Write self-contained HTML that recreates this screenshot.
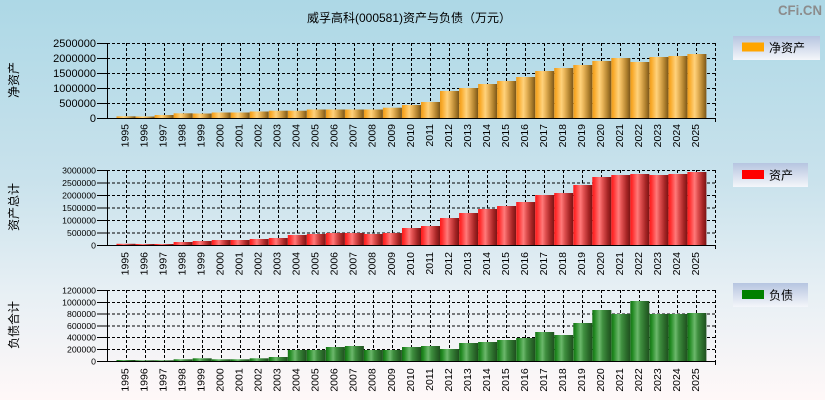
<!DOCTYPE html>
<html><head><meta charset="utf-8"><style>
html,body{margin:0;padding:0;}
body{width:825px;height:400px;overflow:hidden;background:linear-gradient(to bottom,#add8e6 0%,#c9e2ec 45%,#e6eff4 72%,#fff8f8 100%);}
svg{display:block;}
.t{font-family:"Liberation Sans","Noto Sans CJK SC",sans-serif;fill:#000;}
.yl{font-family:"Liberation Sans",sans-serif;font-size:10.5px;fill:#000;}
</style></head><body>
<svg width="825" height="400" viewBox="0 0 825 400" xmlns="http://www.w3.org/2000/svg">
<defs>
<linearGradient id="go" x1="0" y1="0" x2="1" y2="0">
<stop offset="0" stop-color="#eb9a1c"/><stop offset="0.12" stop-color="#f9ab2c"/><stop offset="0.38" stop-color="#ffd27c"/><stop offset="0.55" stop-color="#e8b458"/><stop offset="0.8" stop-color="#b0812e"/><stop offset="1" stop-color="#7a561a"/>
</linearGradient>
<linearGradient id="gr" x1="0" y1="0" x2="1" y2="0">
<stop offset="0" stop-color="#ff1a1a"/><stop offset="0.12" stop-color="#ff3030"/><stop offset="0.38" stop-color="#ff7a7a"/><stop offset="0.55" stop-color="#e05050"/><stop offset="0.8" stop-color="#a82626"/><stop offset="1" stop-color="#7a1414"/>
</linearGradient>
<linearGradient id="gg" x1="0" y1="0" x2="1" y2="0">
<stop offset="0" stop-color="#157015"/><stop offset="0.12" stop-color="#228a22"/><stop offset="0.38" stop-color="#6cb86c"/><stop offset="0.55" stop-color="#3f8f3f"/><stop offset="0.8" stop-color="#2a6a2a"/><stop offset="1" stop-color="#1f4f1f"/>
</linearGradient>
<linearGradient id="lg" x1="0" y1="0" x2="0" y2="1">
<stop offset="0" stop-color="#b6c5e0"/><stop offset="1" stop-color="#f4f6fa"/>
</linearGradient>
</defs>

<!-- Title & logo -->
<text class="t" x="409" y="22" font-size="12" text-anchor="middle">威孚高科(000581)资产与负债（万元）</text>
<text x="800" y="15" font-family="Liberation Sans,sans-serif" font-weight="bold" font-size="14" fill="#8c8c8c" text-anchor="middle" textLength="44" lengthAdjust="spacingAndGlyphs">CFi.CN</text>

<!-- Y axis titles -->
<text class="t" font-size="12" text-anchor="middle" transform="translate(18,80) rotate(-90)">净资产</text>
<text class="t" font-size="12" text-anchor="middle" transform="translate(18,207) rotate(-90)">资产总计</text>
<text class="t" font-size="12" text-anchor="middle" transform="translate(18,325) rotate(-90)">负债合计</text>

<!-- ================= PANEL 1 ================= -->
<g stroke="#000" stroke-width="1" stroke-dasharray="3,2" fill="none">
<path d="M107 43.5H716M107 58.5H716M107 73.5H716M107 88.5H716M107 103.5H716"/>
<path d="M126.5 43V118M145.5 43V118M164.5 43V118M183.5 43V118M202.5 43V118M221.5 43V118M240.5 43V118M259.5 43V118M278.5 43V118M297.5 43V118M316.5 43V118M335.5 43V118M354.5 43V118M373.5 43V118M392.5 43V118M411.5 43V118M430.5 43V118M449.5 43V118M468.5 43V118M487.5 43V118M506.5 43V118M525.5 43V118M544.5 43V118M563.5 43V118M582.5 43V118M601.5 43V118M620.5 43V118M639.5 43V118M658.5 43V118M677.5 43V118M696.5 43V118M715.5 43V118"/>
</g>
<g fill="url(#go)">
<rect x="116.5" y="116.3" width="19" height="1.7"/>
<rect x="135.6" y="116.5" width="19" height="1.5"/>
<rect x="154.6" y="115" width="19" height="3"/>
<rect x="173.6" y="113.3" width="19" height="4.7"/>
<rect x="192.7" y="113.5" width="19" height="4.5"/>
<rect x="211.7" y="112.5" width="19" height="5.5"/>
<rect x="230.7" y="112.5" width="19" height="5.5"/>
<rect x="249.7" y="111.5" width="19" height="6.5"/>
<rect x="268.8" y="110.7" width="19" height="7.3"/>
<rect x="287.8" y="110.7" width="19" height="7.3"/>
<rect x="306.8" y="109.5" width="19" height="8.5"/>
<rect x="325.9" y="109.5" width="19" height="8.5"/>
<rect x="344.9" y="109.5" width="19" height="8.5"/>
<rect x="363.9" y="109.5" width="19" height="8.5"/>
<rect x="382.9" y="107.7" width="19" height="10.3"/>
<rect x="402" y="105" width="19" height="13"/>
<rect x="421" y="102" width="19" height="16"/>
<rect x="440" y="91" width="19" height="27"/>
<rect x="459.1" y="88" width="19" height="30"/>
<rect x="478.1" y="84" width="19" height="34"/>
<rect x="497.1" y="81" width="19" height="37"/>
<rect x="516.2" y="77" width="19" height="41"/>
<rect x="535.2" y="71" width="19" height="47"/>
<rect x="554.2" y="68" width="19" height="50"/>
<rect x="573.3" y="65" width="19" height="53"/>
<rect x="592.3" y="61" width="19" height="57"/>
<rect x="611.3" y="58" width="19" height="60"/>
<rect x="630.3" y="62" width="19" height="56"/>
<rect x="649.4" y="57" width="19" height="61"/>
<rect x="668.4" y="56" width="19" height="62"/>
<rect x="687.4" y="54" width="19" height="64"/>
</g>
<g stroke="#000" stroke-width="1" fill="none">
<path d="M107.5 43V118.5M97 118.5H716M715.5 118V122"/>
<path d="M97 43.5H107M97 58.5H107M97 73.5H107M97 88.5H107M97 103.5H107"/>
</g>
<g class="t" font-size="11" text-anchor="end">
<text x="96" y="47">2500000</text>
<text x="96" y="62">2000000</text>
<text x="96" y="77">1500000</text>
<text x="96" y="92">1000000</text>
<text x="96" y="107">500000</text>
<text x="96" y="122">0</text>
</g>
<g class="yl" text-anchor="end">
<text transform="translate(128.3,124) rotate(-90)">1995</text>
<text transform="translate(147.4,124) rotate(-90)">1996</text>
<text transform="translate(166.4,124) rotate(-90)">1997</text>
<text transform="translate(185.4,124) rotate(-90)">1998</text>
<text transform="translate(204.5,124) rotate(-90)">1999</text>
<text transform="translate(223.5,124) rotate(-90)">2000</text>
<text transform="translate(242.5,124) rotate(-90)">2001</text>
<text transform="translate(261.5,124) rotate(-90)">2002</text>
<text transform="translate(280.6,124) rotate(-90)">2003</text>
<text transform="translate(299.6,124) rotate(-90)">2004</text>
<text transform="translate(318.6,124) rotate(-90)">2005</text>
<text transform="translate(337.7,124) rotate(-90)">2006</text>
<text transform="translate(356.7,124) rotate(-90)">2007</text>
<text transform="translate(375.7,124) rotate(-90)">2008</text>
<text transform="translate(394.8,124) rotate(-90)">2009</text>
<text transform="translate(413.8,124) rotate(-90)">2010</text>
<text transform="translate(432.8,124) rotate(-90)">2011</text>
<text transform="translate(451.8,124) rotate(-90)">2012</text>
<text transform="translate(470.9,124) rotate(-90)">2013</text>
<text transform="translate(489.9,124) rotate(-90)">2014</text>
<text transform="translate(508.9,124) rotate(-90)">2015</text>
<text transform="translate(528,124) rotate(-90)">2016</text>
<text transform="translate(547,124) rotate(-90)">2017</text>
<text transform="translate(566,124) rotate(-90)">2018</text>
<text transform="translate(585.1,124) rotate(-90)">2019</text>
<text transform="translate(604.1,124) rotate(-90)">2020</text>
<text transform="translate(623.1,124) rotate(-90)">2021</text>
<text transform="translate(642.1,124) rotate(-90)">2022</text>
<text transform="translate(661.2,124) rotate(-90)">2023</text>
<text transform="translate(680.2,124) rotate(-90)">2024</text>
<text transform="translate(699.2,124) rotate(-90)">2025</text>
</g>
<rect x="733" y="36" width="87" height="24" fill="url(#lg)"/>
<rect x="742" y="42.5" width="22" height="9" fill="#ffa500"/>
<text class="t" x="769" y="52" font-size="12">净资产</text>

<!-- ================= PANEL 2 ================= -->
<g stroke="#000" stroke-width="1" stroke-dasharray="3,2" fill="none">
<path d="M107 170.5H716M107 183H716M107 195.5H716M107 208H716M107 220.5H716M107 233H716"/>
<path d="M126.5 170V245M145.5 170V245M164.5 170V245M183.5 170V245M202.5 170V245M221.5 170V245M240.5 170V245M259.5 170V245M278.5 170V245M297.5 170V245M316.5 170V245M335.5 170V245M354.5 170V245M373.5 170V245M392.5 170V245M411.5 170V245M430.5 170V245M449.5 170V245M468.5 170V245M487.5 170V245M506.5 170V245M525.5 170V245M544.5 170V245M563.5 170V245M582.5 170V245M601.5 170V245M620.5 170V245M639.5 170V245M658.5 170V245M677.5 170V245M696.5 170V245M715.5 170V245"/>
</g>
<g fill="url(#gr)">
<rect x="116.5" y="243.8" width="19" height="1.5"/>
<rect x="135.6" y="244" width="19" height="1.3"/>
<rect x="154.6" y="244" width="19" height="1.3"/>
<rect x="173.6" y="242" width="19" height="3.3"/>
<rect x="192.7" y="241" width="19" height="4.3"/>
<rect x="211.7" y="240" width="19" height="5.3"/>
<rect x="230.7" y="240" width="19" height="5.3"/>
<rect x="249.7" y="239" width="19" height="6.3"/>
<rect x="268.8" y="238" width="19" height="7.3"/>
<rect x="287.8" y="235" width="19" height="10.3"/>
<rect x="306.8" y="234" width="19" height="11.3"/>
<rect x="325.9" y="233" width="19" height="12.3"/>
<rect x="344.9" y="233" width="19" height="12.3"/>
<rect x="363.9" y="234" width="19" height="11.3"/>
<rect x="382.9" y="233" width="19" height="12.3"/>
<rect x="402" y="228" width="19" height="17.3"/>
<rect x="421" y="226" width="19" height="19.3"/>
<rect x="440" y="218" width="19" height="27.3"/>
<rect x="459.1" y="213" width="19" height="32.3"/>
<rect x="478.1" y="209" width="19" height="36.3"/>
<rect x="497.1" y="206" width="19" height="39.3"/>
<rect x="516.2" y="202" width="19" height="43.3"/>
<rect x="535.2" y="195" width="19" height="50.3"/>
<rect x="554.2" y="193" width="19" height="52.3"/>
<rect x="573.3" y="185" width="19" height="60.3"/>
<rect x="592.3" y="177" width="19" height="68.3"/>
<rect x="611.3" y="175" width="19" height="70.3"/>
<rect x="630.3" y="174" width="19" height="71.3"/>
<rect x="649.4" y="175" width="19" height="70.3"/>
<rect x="668.4" y="174" width="19" height="71.3"/>
<rect x="687.4" y="172" width="19" height="73.3"/>
</g>
<g stroke="#000" stroke-width="1" fill="none">
<path d="M107.5 170V245.5M97 245.5H716M715.5 245V249"/>
<path d="M97 170.5H107M97 183H107M97 195.5H107M97 208H107M97 220.5H107M97 233H107"/>
</g>
<g class="t" font-size="8.7" text-anchor="end">
<text x="96" y="173.5">3000000</text>
<text x="96" y="186">2500000</text>
<text x="96" y="198.5">2000000</text>
<text x="96" y="211">1500000</text>
<text x="96" y="223.5">1000000</text>
<text x="96" y="236">500000</text>
<text x="96" y="248.5">0</text>
</g>
<g class="yl" text-anchor="end">
<text transform="translate(128.3,252) rotate(-90)">1995</text>
<text transform="translate(147.4,252) rotate(-90)">1996</text>
<text transform="translate(166.4,252) rotate(-90)">1997</text>
<text transform="translate(185.4,252) rotate(-90)">1998</text>
<text transform="translate(204.5,252) rotate(-90)">1999</text>
<text transform="translate(223.5,252) rotate(-90)">2000</text>
<text transform="translate(242.5,252) rotate(-90)">2001</text>
<text transform="translate(261.5,252) rotate(-90)">2002</text>
<text transform="translate(280.6,252) rotate(-90)">2003</text>
<text transform="translate(299.6,252) rotate(-90)">2004</text>
<text transform="translate(318.6,252) rotate(-90)">2005</text>
<text transform="translate(337.7,252) rotate(-90)">2006</text>
<text transform="translate(356.7,252) rotate(-90)">2007</text>
<text transform="translate(375.7,252) rotate(-90)">2008</text>
<text transform="translate(394.8,252) rotate(-90)">2009</text>
<text transform="translate(413.8,252) rotate(-90)">2010</text>
<text transform="translate(432.8,252) rotate(-90)">2011</text>
<text transform="translate(451.8,252) rotate(-90)">2012</text>
<text transform="translate(470.9,252) rotate(-90)">2013</text>
<text transform="translate(489.9,252) rotate(-90)">2014</text>
<text transform="translate(508.9,252) rotate(-90)">2015</text>
<text transform="translate(528,252) rotate(-90)">2016</text>
<text transform="translate(547,252) rotate(-90)">2017</text>
<text transform="translate(566,252) rotate(-90)">2018</text>
<text transform="translate(585.1,252) rotate(-90)">2019</text>
<text transform="translate(604.1,252) rotate(-90)">2020</text>
<text transform="translate(623.1,252) rotate(-90)">2021</text>
<text transform="translate(642.1,252) rotate(-90)">2022</text>
<text transform="translate(661.2,252) rotate(-90)">2023</text>
<text transform="translate(680.2,252) rotate(-90)">2024</text>
<text transform="translate(699.2,252) rotate(-90)">2025</text>
</g>
<rect x="733" y="163" width="75" height="24" fill="url(#lg)"/>
<rect x="742" y="170" width="22" height="9" fill="#ff0000"/>
<text class="t" x="769" y="179.5" font-size="12">资产</text>

<!-- ================= PANEL 3 ================= -->
<g stroke="#000" stroke-width="1" stroke-dasharray="3,2" fill="none">
<path d="M107 290.5H716M107 302.5H716M107 314H716M107 326H716M107 337.5H716M107 349.5H716"/>
<path d="M126.5 290V361M145.5 290V361M164.5 290V361M183.5 290V361M202.5 290V361M221.5 290V361M240.5 290V361M259.5 290V361M278.5 290V361M297.5 290V361M316.5 290V361M335.5 290V361M354.5 290V361M373.5 290V361M392.5 290V361M411.5 290V361M430.5 290V361M449.5 290V361M468.5 290V361M487.5 290V361M506.5 290V361M525.5 290V361M544.5 290V361M563.5 290V361M582.5 290V361M601.5 290V361M620.5 290V361M639.5 290V361M658.5 290V361M677.5 290V361M696.5 290V361M715.5 290V361"/>
</g>
<g fill="url(#gg)">
<rect x="116.5" y="360" width="19" height="1.3"/>
<rect x="135.6" y="360.3" width="19" height="1"/>
<rect x="154.6" y="360.3" width="19" height="1"/>
<rect x="173.6" y="359.3" width="19" height="2"/>
<rect x="192.7" y="358.3" width="19" height="3"/>
<rect x="211.7" y="359.3" width="19" height="2"/>
<rect x="230.7" y="359.3" width="19" height="2"/>
<rect x="249.7" y="358.3" width="19" height="3"/>
<rect x="268.8" y="357" width="19" height="4.3"/>
<rect x="287.8" y="350" width="19" height="11.3"/>
<rect x="306.8" y="350" width="19" height="11.3"/>
<rect x="325.9" y="347" width="19" height="14.3"/>
<rect x="344.9" y="346" width="19" height="15.3"/>
<rect x="363.9" y="350" width="19" height="11.3"/>
<rect x="382.9" y="350" width="19" height="11.3"/>
<rect x="402" y="347" width="19" height="14.3"/>
<rect x="421" y="346" width="19" height="15.3"/>
<rect x="440" y="349" width="19" height="12.3"/>
<rect x="459.1" y="343" width="19" height="18.3"/>
<rect x="478.1" y="342" width="19" height="19.3"/>
<rect x="497.1" y="340" width="19" height="21.3"/>
<rect x="516.2" y="338" width="19" height="23.3"/>
<rect x="535.2" y="332" width="19" height="29.3"/>
<rect x="554.2" y="335" width="19" height="26.3"/>
<rect x="573.3" y="323" width="19" height="38.3"/>
<rect x="592.3" y="310" width="19" height="51.3"/>
<rect x="611.3" y="314" width="19" height="47.3"/>
<rect x="630.3" y="301" width="19" height="60.3"/>
<rect x="649.4" y="314" width="19" height="47.3"/>
<rect x="668.4" y="314" width="19" height="47.3"/>
<rect x="687.4" y="313" width="19" height="48.3"/>
</g>
<g stroke="#000" stroke-width="1" fill="none">
<path d="M107.5 290V361.5M97 361.5H716M715.5 361V365"/>
<path d="M97 290.5H107M97 302.5H107M97 314H107M97 326H107M97 337.5H107M97 349.5H107"/>
</g>
<g class="t" font-size="8.7" text-anchor="end">
<text x="96" y="293.5">1200000</text>
<text x="96" y="305.5">1000000</text>
<text x="96" y="317">800000</text>
<text x="96" y="329">600000</text>
<text x="96" y="340.5">400000</text>
<text x="96" y="352.5">200000</text>
<text x="96" y="364.5">0</text>
</g>
<g class="yl" text-anchor="end">
<text transform="translate(128.3,368.3) rotate(-90)">1995</text>
<text transform="translate(147.4,368.3) rotate(-90)">1996</text>
<text transform="translate(166.4,368.3) rotate(-90)">1997</text>
<text transform="translate(185.4,368.3) rotate(-90)">1998</text>
<text transform="translate(204.5,368.3) rotate(-90)">1999</text>
<text transform="translate(223.5,368.3) rotate(-90)">2000</text>
<text transform="translate(242.5,368.3) rotate(-90)">2001</text>
<text transform="translate(261.5,368.3) rotate(-90)">2002</text>
<text transform="translate(280.6,368.3) rotate(-90)">2003</text>
<text transform="translate(299.6,368.3) rotate(-90)">2004</text>
<text transform="translate(318.6,368.3) rotate(-90)">2005</text>
<text transform="translate(337.7,368.3) rotate(-90)">2006</text>
<text transform="translate(356.7,368.3) rotate(-90)">2007</text>
<text transform="translate(375.7,368.3) rotate(-90)">2008</text>
<text transform="translate(394.8,368.3) rotate(-90)">2009</text>
<text transform="translate(413.8,368.3) rotate(-90)">2010</text>
<text transform="translate(432.8,368.3) rotate(-90)">2011</text>
<text transform="translate(451.8,368.3) rotate(-90)">2012</text>
<text transform="translate(470.9,368.3) rotate(-90)">2013</text>
<text transform="translate(489.9,368.3) rotate(-90)">2014</text>
<text transform="translate(508.9,368.3) rotate(-90)">2015</text>
<text transform="translate(528,368.3) rotate(-90)">2016</text>
<text transform="translate(547,368.3) rotate(-90)">2017</text>
<text transform="translate(566,368.3) rotate(-90)">2018</text>
<text transform="translate(585.1,368.3) rotate(-90)">2019</text>
<text transform="translate(604.1,368.3) rotate(-90)">2020</text>
<text transform="translate(623.1,368.3) rotate(-90)">2021</text>
<text transform="translate(642.1,368.3) rotate(-90)">2022</text>
<text transform="translate(661.2,368.3) rotate(-90)">2023</text>
<text transform="translate(680.2,368.3) rotate(-90)">2024</text>
<text transform="translate(699.2,368.3) rotate(-90)">2025</text>
</g>
<rect x="733" y="283" width="75" height="24" fill="url(#lg)"/>
<rect x="742" y="290" width="22" height="9" fill="#008000"/>
<text class="t" x="769" y="299.5" font-size="12">负债</text>
</svg>
</body></html>
